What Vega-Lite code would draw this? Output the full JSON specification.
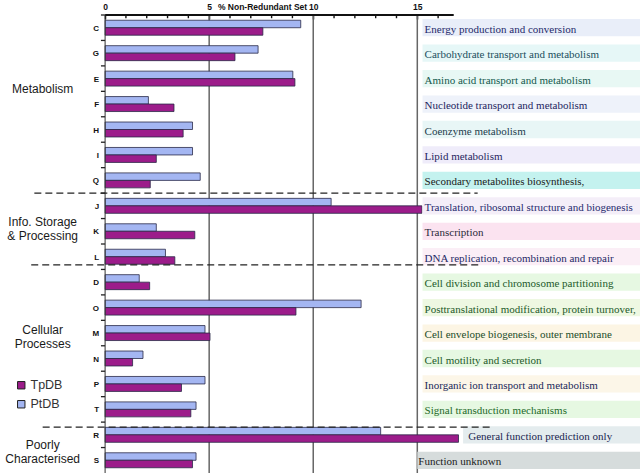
{
  "$schema": "https://vega.github.io/schema/vega-lite/v6.json",
  "width": 640,
  "height": 458,
  "autosize": {"type": "none"},
  "padding": {"left": 0, "top": 15, "right": 0, "bottom": 0},
  "background": "white",
  "config": {"view": {"stroke": null}, "font": "Liberation Sans"},
  "datasets": {
    "bars": [
      {"cat": "C", "series": "PtDB", "value": 9.4}, {"cat": "C", "series": "TpDB", "value": 7.58},
      {"cat": "G", "series": "PtDB", "value": 7.35}, {"cat": "G", "series": "TpDB", "value": 6.24},
      {"cat": "E", "series": "PtDB", "value": 9.02}, {"cat": "E", "series": "TpDB", "value": 9.12},
      {"cat": "F", "series": "PtDB", "value": 2.08}, {"cat": "F", "series": "TpDB", "value": 3.31},
      {"cat": "H", "series": "PtDB", "value": 4.2}, {"cat": "H", "series": "TpDB", "value": 3.75},
      {"cat": "I", "series": "PtDB", "value": 4.2}, {"cat": "I", "series": "TpDB", "value": 2.46},
      {"cat": "Q", "series": "PtDB", "value": 4.57}, {"cat": "Q", "series": "TpDB", "value": 2.17},
      {"cat": "J", "series": "PtDB", "value": 10.86}, {"cat": "J", "series": "TpDB", "value": 15.22},
      {"cat": "K", "series": "PtDB", "value": 2.46}, {"cat": "K", "series": "TpDB", "value": 4.31},
      {"cat": "L", "series": "PtDB", "value": 2.9}, {"cat": "L", "series": "TpDB", "value": 3.35},
      {"cat": "D", "series": "PtDB", "value": 1.64}, {"cat": "D", "series": "TpDB", "value": 2.14},
      {"cat": "O", "series": "PtDB", "value": 12.3}, {"cat": "O", "series": "TpDB", "value": 9.17},
      {"cat": "M", "series": "PtDB", "value": 4.8}, {"cat": "M", "series": "TpDB", "value": 5.04},
      {"cat": "N", "series": "PtDB", "value": 1.82}, {"cat": "N", "series": "TpDB", "value": 1.32},
      {"cat": "P", "series": "PtDB", "value": 4.8}, {"cat": "P", "series": "TpDB", "value": 3.67},
      {"cat": "T", "series": "PtDB", "value": 4.37}, {"cat": "T", "series": "TpDB", "value": 4.12},
      {"cat": "R", "series": "PtDB", "value": 13.24}, {"cat": "R", "series": "TpDB", "value": 16.98},
      {"cat": "S", "series": "PtDB", "value": 4.37}, {"cat": "S", "series": "TpDB", "value": 4.2}
    ],
    "cats": [
      {"cat": "C", "label": "Energy production and conversion"},
      {"cat": "G", "label": "Carbohydrate transport and metabolism"},
      {"cat": "E", "label": "Amino acid transport and metabolism"},
      {"cat": "F", "label": "Nucleotide transport and metabolism"},
      {"cat": "H", "label": "Coenzyme metabolism"},
      {"cat": "I", "label": "Lipid metabolism"},
      {"cat": "Q", "label": "Secondary metabolites biosynthesis,"},
      {"cat": "J", "label": "Translation, ribosomal structure and biogenesis"},
      {"cat": "K", "label": "Transcription"},
      {"cat": "L", "label": "DNA replication, recombination and repair"},
      {"cat": "D", "label": "Cell division and chromosome partitioning"},
      {"cat": "O", "label": "Posttranslational modification, protein turnover,"},
      {"cat": "M", "label": "Cell envelope biogenesis, outer membrane"},
      {"cat": "N", "label": "Cell motility and secretion"},
      {"cat": "P", "label": "Inorganic ion transport and metabolism"},
      {"cat": "T", "label": "Signal transduction mechanisms"},
      {"cat": "R", "label": "General function prediction only"},
      {"cat": "S", "label": "Function unknown"}
    ]
  },
  "resolve": {"scale": {"color": "independent"}},
  "layer": [
    {
      "data": {"values": [{"g": 5}, {"g": 10}, {"g": 15}]},
      "mark": {"type": "rule", "color": "#666", "strokeWidth": 1.5},
      "encoding": {
        "x": {"field": "g", "type": "quantitative", "scale": {"domain": [-5.05, 25.7], "nice": false, "zero": false},
          "axis": {"orient": "top", "values": [0, 5, 10, 15], "domain": false, "tickSize": -4, "tickColor": "#111", "tickWidth": 1.5, "grid": false,
            "labelOverlap": false, "labelFontSize": 8.5, "labelFontWeight": "bold", "labelColor": "#111", "labelPadding": 8, "labelFont": "Liberation Sans",
            "title": "% Non-Redundant Set", "titleFontSize": 8.5, "titleFontWeight": "bold", "titleColor": "#111", "titleX": 262, "titleY": -9, "titleBaseline": "middle", "titleAlign": "center", "titleFont": "Liberation Sans"}}
      }
    },
    {
      "data": {"name": "bars"},
      "mark": {"type": "bar", "stroke": "#2a2a48", "strokeWidth": 0.8},
      "encoding": {
        "x": {"field": "value", "type": "quantitative", "scale": {"domain": [-5.05, 25.7], "nice": false, "zero": false}},
        "y": {"field": "cat", "type": "nominal", "sort": null, "scale": {"domain": ["C","G","E","F","H","I","Q","J","K","L","D","O","M","N","P","T","R","S"], "paddingInner": 0, "paddingOuter": 0},
          "axis": {"labels": false, "ticks": false, "domain": false, "title": null, "grid": false}},
        "yOffset": {"field": "series", "type": "nominal", "scale": {"domain": ["PtDB", "TpDB"], "paddingOuter": 0.7, "paddingInner": 0}},
        "color": {"field": "series", "type": "nominal", "scale": {"domain": ["TpDB", "PtDB"], "range": ["#9c1c8a", "#a4b6f2"]},
          "legend": {"title": null, "orient": "none", "legendX": 15, "legendY": 364, "symbolType": "square", "symbolSize": 55, "symbolStrokeColor": "#222", "symbolStrokeWidth": 1, "labelFontSize": 12.5, "labelFont": "Liberation Sans", "labelColor": "#333", "rowPadding": 6, "padding": 0, "labelOffset": 3}}
      }
    },
    {
      "data": {"values": [{"a": 0}]},
      "mark": {"type": "rule", "color": "#333", "strokeWidth": 1},
      "encoding": {
        "x": {"field": "a", "type": "quantitative"}
      }
    },
    {
      "data": {"name": "cats"},
      "mark": {"type": "rule", "color": "#222", "strokeWidth": 1.3},
      "encoding": {
        "x": {"datum": -0.2, "type": "quantitative"},
        "x2": {"datum": 0},
        "y": {"field": "cat", "type": "nominal", "sort": null, "bandPosition": 0}
      }
    },
    {
      "data": {"values": [{"t": 1, "cat": "C"}, {"t": 2, "cat": "C"}, {"t": 3, "cat": "C"}, {"t": 4, "cat": "C"}, {"t": 6, "cat": "C"}, {"t": 7, "cat": "C"}, {"t": 8, "cat": "C"}, {"t": 9, "cat": "C"}, {"t": 11, "cat": "C"}, {"t": 12, "cat": "C"}, {"t": 13, "cat": "C"}, {"t": 14, "cat": "C"}, {"t": 16, "cat": "C"}]},
      "mark": {"type": "tick", "orient": "vertical", "size": 4, "thickness": 1.4, "color": "#111", "opacity": 1, "yOffset": -11.5},
      "encoding": {
        "x": {"field": "t", "type": "quantitative"},
        "y": {"field": "cat", "type": "nominal", "sort": null}
      }
    },
    {
      "data": {"name": "cats"},
      "transform": [{"filter": "datum.cat !== 'R' && datum.cat !== 'S'"}],
      "mark": {"type": "bar", "height": {"band": 0.68}},
      "encoding": {
        "x": {"datum": 15.25, "type": "quantitative"},
        "x2": {"datum": 26},
        "y": {"field": "cat", "type": "nominal", "sort": null},
        "color": {"field": "cat", "type": "nominal", "legend": null, "scale": {"domain": ["C","G","E","F","H","I","Q","J","K","L","D","O","M","N","P","T","R","S"], "range": ["#e9eef9","#e6f7f7","#e8f8f4","#eef2fa","#e8f6f6","#efecfa","#c4f2ef","#f4eef8","#fbe3f0","#fbeef6","#e6f8e2","#eef8e2","#fcf5e4","#e6f8e2","#fcf6e8","#e6f8e2","#e4ecee","#d6dcdc"]}}
      }
    },
    {
      "data": {"name": "cats"},
      "transform": [{"filter": "datum.cat === 'R'"}],
      "mark": {"type": "bar", "height": {"band": 0.68}},
      "encoding": {
        "x": {"datum": 17.2, "type": "quantitative"},
        "x2": {"datum": 26},
        "y": {"field": "cat", "type": "nominal", "sort": null},
        "color": {"field": "cat", "type": "nominal", "legend": null, "scale": {"domain": ["R"], "range": ["#e4ecee"]}}
      }
    },
    {
      "data": {"name": "cats"},
      "transform": [{"filter": "datum.cat === 'S'"}],
      "mark": {"type": "bar", "height": {"band": 0.68}},
      "encoding": {
        "x": {"datum": 15.0, "type": "quantitative"},
        "x2": {"datum": 26},
        "y": {"field": "cat", "type": "nominal", "sort": null},
        "color": {"field": "cat", "type": "nominal", "legend": null, "scale": {"domain": ["S"], "range": ["#d6dcdc"]}}
      }
    },
    {
      "data": {"values": [{"cat": "C"}]},
      "mark": {"type": "rule", "color": "#111", "strokeWidth": 2},
      "encoding": {
        "x": {"datum": 0, "type": "quantitative"},
        "x2": {"datum": 16.75},
        "y": {"field": "cat", "type": "nominal", "sort": null, "bandPosition": 0}
      }
    },
    {
      "data": {"values": [{"cat": "J"}]},
      "mark": {"type": "rule", "color": "#222", "strokeWidth": 1.2, "strokeDash": [7, 4]},
      "encoding": {
        "x": {"datum": -3.4, "type": "quantitative"},
        "x2": {"datum": 17.9},
        "y": {"field": "cat", "type": "nominal", "sort": null, "bandPosition": 0}
      }
    },
    {
      "data": {"values": [{"cat": "L"}]},
      "mark": {"type": "rule", "color": "#222", "strokeWidth": 1.2, "strokeDash": [7, 4]},
      "encoding": {
        "x": {"datum": -3.55, "type": "quantitative"},
        "x2": {"datum": 18.0},
        "y": {"field": "cat", "type": "nominal", "sort": null, "bandPosition": 0.82}
      }
    },
    {
      "data": {"values": [{"cat": "R"}]},
      "mark": {"type": "rule", "color": "#222", "strokeWidth": 1.2, "strokeDash": [7, 4]},
      "encoding": {
        "x": {"datum": -3.0, "type": "quantitative"},
        "x2": {"datum": 18.6},
        "y": {"field": "cat", "type": "nominal", "sort": null, "bandPosition": 0.2}
      }
    },
    {
      "data": {"name": "cats"},
      "mark": {"type": "text", "align": "right", "baseline": "middle", "dx": -6, "dy": 1, "font": "Liberation Sans", "fontSize": 8, "fontWeight": "bold", "color": "#111"},
      "encoding": {
        "x": {"datum": 0, "type": "quantitative"},
        "y": {"field": "cat", "type": "nominal", "sort": null},
        "text": {"field": "cat"}
      }
    },
    {
      "data": {"name": "cats"},
      "transform": [{"filter": "datum.cat !== 'R' && datum.cat !== 'S'"}],
      "mark": {"type": "text", "align": "left", "baseline": "middle", "dy": 2, "font": "Liberation Serif", "fontSize": 11},
      "encoding": {
        "x": {"datum": 15.35, "type": "quantitative"},
        "y": {"field": "cat", "type": "nominal", "sort": null},
        "text": {"field": "label"},
        "color": {"field": "cat", "type": "nominal", "legend": null, "scale": {"domain": ["C","G","E","F","H","I","Q","J","K","L","D","O","M","N","P","T"], "range": ["#1f2a6b","#1c4f5e","#14594e","#1d2560","#1d3d4d","#262660","#1a1a1a","#262a6e","#2a2a3a","#252a66","#1d5a2a","#1d5a2a","#1d4d2a","#1d5a2a","#20285a","#1d6a2a"]}}
      }
    },
    {
      "data": {"name": "cats"},
      "transform": [{"filter": "datum.cat === 'R'"}],
      "mark": {"type": "text", "align": "left", "baseline": "middle", "dy": 2, "font": "Liberation Serif", "fontSize": 11, "color": "#1a2550"},
      "encoding": {
        "x": {"datum": 17.45, "type": "quantitative"},
        "y": {"field": "cat", "type": "nominal", "sort": null},
        "text": {"field": "label"}
      }
    },
    {
      "data": {"name": "cats"},
      "transform": [{"filter": "datum.cat === 'S'"}],
      "mark": {"type": "text", "align": "left", "baseline": "middle", "dy": 2, "font": "Liberation Serif", "fontSize": 11, "color": "#1a1a1a"},
      "encoding": {
        "x": {"datum": 15.05, "type": "quantitative"},
        "y": {"field": "cat", "type": "nominal", "sort": null},
        "text": {"field": "label"}
      }
    },
    {
      "data": {"values": [{"cat": "E", "group": "Metabolism"}, {"cat": "R", "group": ["Poorly", "Characterised"]}]},
      "mark": {"type": "text", "align": "center", "baseline": "middle", "dy": -2.5, "font": "Liberation Sans", "fontSize": 12, "lineHeight": 14, "color": "#1a1a1a"},
      "encoding": {
        "x": {"datum": -3.0, "type": "quantitative"},
        "y": {"field": "cat", "type": "nominal", "sort": null, "bandPosition": 1},
        "text": {"field": "group"}
      }
    },
    {
      "data": {"values": [{"cat": "M", "group": ["Cellular", "Processes"]}]},
      "mark": {"type": "text", "align": "center", "baseline": "middle", "dy": -3, "font": "Liberation Sans", "fontSize": 12, "lineHeight": 14, "color": "#1a1a1a"},
      "encoding": {
        "x": {"datum": -3.0, "type": "quantitative"},
        "y": {"field": "cat", "type": "nominal", "sort": null},
        "text": {"field": "group"}
      }
    },
    {
      "data": {"values": [{"cat": "K", "group": ["Info. Storage", "& Processing"]}]},
      "mark": {"type": "text", "align": "center", "baseline": "middle", "dy": -9, "font": "Liberation Sans", "fontSize": 12, "lineHeight": 14, "color": "#1a1a1a"},
      "encoding": {
        "x": {"datum": -3.0, "type": "quantitative"},
        "y": {"field": "cat", "type": "nominal", "sort": null},
        "text": {"field": "group"}
      }
    }
  ]
}
